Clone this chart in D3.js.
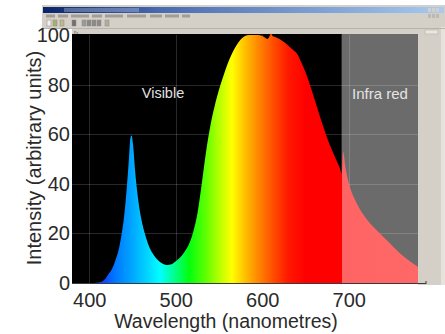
<!DOCTYPE html>
<html>
<head>
<meta charset="utf-8">
<script src="https://cdn.jsdelivr.net/npm/d3@7"></script>
<style>
  html, body { margin: 0; padding: 0; background: #fff; }
  svg { display: block; }
</style>
</head>
<body>
<div id="chart"></div>
<script>
// spectrum readings (nm, arbitrary units)
const wavelengths = [380, 400, 405, 410, 414, 418, 422, 426, 430, 434, 437, 440, 443, 446, 447.5, 449, 450.5, 453, 456, 460, 465,
  470, 475, 480, 485, 490, 495, 500, 505, 510, 515, 520, 525, 530, 535, 540, 545, 550, 555, 560, 565,
  570, 575, 580, 585, 590, 595, 600, 603, 606, 608, 610, 612, 615, 620, 625, 630, 635, 640, 645, 650,
  655, 660, 665, 670, 675, 680, 685, 690, 692, 693.5, 696, 701, 708, 716, 726, 736, 746, 756, 766, 776, 780];
const intensities = [0, 0, 0, 0.2, 0.5, 1.5, 3.5, 5.5, 9, 13.5, 19, 26, 37, 51, 58.5, 59.5, 56, 45, 35, 26, 19,
  14, 11, 9, 7.8, 7.3, 7.6, 8.8, 10.3, 12.5, 15.5, 20.5, 28, 40, 53, 63.5, 71.5, 78, 83.5, 88.5, 92.5,
  95.8, 98.2, 99.6, 100, 100, 100, 99.6, 99, 98.4, 99.2, 100.6, 99.6, 99.2, 98.4, 97.2, 95.8, 94.2, 92.5, 89, 85,
  80, 74.5, 69, 63.5, 58.5, 54, 50, 46, 44, 53, 47, 39, 33, 28, 23.5, 20, 16.5, 13, 10, 7.5, 6.5];
const xTicks = [400, 500, 600, 700];
const yTicks = [0, 20, 40, 60, 80, 100];
const regionLabels = ["Visible", "Infra red"];
const irStart = 692;

const W = 445, H = 334;
const svg = d3.select("#chart").append("svg").attr("width", W).attr("height", H);

const x = d3.scaleLinear().domain([380, 780]).range([72, 418]);
const y = d3.scaleLinear().domain([0, 100]).range([283, 35]);

// ---- window chrome (screenshot look) ----
const frame = "#d4d0c8";
svg.append("rect").attr("x", 42).attr("y", 5).attr("width", 403).attr("height", 23).attr("fill", frame);
svg.append("rect").attr("x", 72).attr("y", 27).attr("width", 373).attr("height", 8).attr("fill", frame);
svg.append("rect").attr("x", 418).attr("y", 27).attr("width", 27).attr("height", 258).attr("fill", frame);
svg.append("rect").attr("x", 441).attr("y", 27).attr("width", 4).attr("height", 258).attr("fill", "#e6e3dd");

const defs = svg.append("defs");
const tg = defs.append("linearGradient").attr("id", "titlebar");
tg.append("stop").attr("offset", "0%").attr("stop-color", "#0a246a");
tg.append("stop").attr("offset", "30%").attr("stop-color", "#4a6cb0");
tg.append("stop").attr("offset", "100%").attr("stop-color", "#a6caf0");
svg.append("rect").attr("x", 43).attr("y", 7).attr("width", 401).attr("height", 6).attr("fill", "url(#titlebar)");
svg.append("rect").attr("x", 64).attr("y", 8).attr("width", 75).attr("height", 4).attr("fill", "#c8d4ec").attr("opacity", 0.35);
[428, 432, 436].forEach(bx => {
  svg.append("rect").attr("x", bx).attr("y", 8).attr("width", 3).attr("height", 4).attr("fill", frame);
  svg.append("rect").attr("x", bx).attr("y", 14).attr("width", 3).attr("height", 4).attr("fill", "#bdb9b1");
});
// menu items
[[46, 9], [58, 10], [71, 18], [92, 10], [105, 18], [127, 19], [150, 12], [165, 14], [182, 8]].forEach(([mx, mw]) => {
  svg.append("rect").attr("x", mx).attr("y", 14.5).attr("width", mw).attr("height", 3).attr("fill", "#a29e96");
});
// toolbar icons
[[47, "#f0efe8"], [53, "#a8b070"], [60, "#c0b890"], [72, "#707070"], [82, "#9a9a9a"], [87, "#8a8a8a"], [92, "#8a8a8a"], [97, "#8a8a8a"], [105, "#b0aca4"]].forEach(([ix, c]) => {
  svg.append("rect").attr("x", ix).attr("y", 20).attr("width", 4).attr("height", 6).attr("fill", c).attr("stroke", "#8f8b83").attr("stroke-width", 0.5);
});
svg.append("line").attr("x1", 42).attr("x2", 445).attr("y1", 28.5).attr("y2", 28.5).attr("stroke", "#b8b4ac");
svg.append("text").attr("x", 74).attr("y", 33.5).attr("font-size", 4).attr("fill", "#444").text("Px");
svg.append("rect").attr("x", 425).attr("y", 30).attr("width", 13).attr("height", 4).attr("fill", "#e8e6e0").attr("stroke", "#aaa").attr("stroke-width", 0.5);

// ---- plot background ----
svg.append("rect").attr("x", x(380)).attr("y", y(100) - 1).attr("width", x(irStart) - x(380)).attr("height", y(0) - y(100) + 1).attr("fill", "#000");
svg.append("rect").attr("x", x(irStart)).attr("y", y(100) - 1).attr("width", x(780) - x(irStart)).attr("height", y(0) - y(100) + 1).attr("fill", "#6b6b6b");

// gridlines
const grid = svg.append("g").attr("stroke", "#fff").attr("stroke-opacity", 0.16).attr("stroke-width", 1);
xTicks.forEach(t => grid.append("line").attr("x1", Math.round(x(t)) + 0.5).attr("x2", Math.round(x(t)) + 0.5).attr("y1", y(100)).attr("y2", y(0)));
yTicks.slice(1, -1).forEach(t => grid.append("line").attr("x1", x(380)).attr("x2", x(780)).attr("y1", Math.round(y(t)) + 0.5).attr("y2", Math.round(y(t)) + 0.5));

// ---- spectrum ----
const stops = [
  [380, "#1030ff"], [415, "#1040ff"], [430, "#0078ff"], [450, "#00a8ff"], [468, "#00d8ff"],
  [482, "#00ffff"], [498, "#00ff90"], [515, "#00ff10"], [535, "#60ff00"], [552, "#c0ff00"],
  [565, "#ffff00"], [580, "#ffc000"], [595, "#ff8800"], [612, "#ff5000"], [630, "#ff1800"],
  [650, "#ff0000"], [irStart, "#ff0000"], [irStart, "#ff6464"], [780, "#ff6868"]
];
const sg = defs.append("linearGradient").attr("id", "spectrum")
  .attr("gradientUnits", "userSpaceOnUse")
  .attr("x1", x(380)).attr("x2", x(780)).attr("y1", 0).attr("y2", 0);
stops.forEach(([nm, c]) => sg.append("stop").attr("offset", (nm - 380) / 400).attr("stop-color", c));

const pts = wavelengths.map((w, i) => [w, intensities[i]]);
const area = d3.area()
  .x(d => x(d[0]))
  .y0(y(0))
  .y1(d => y(d[1]))
  .curve(d3.curveMonotoneX);
svg.append("path").datum(pts).attr("d", area).attr("fill", "url(#spectrum)");

// bottom line
svg.append("line").attr("x1", x(380)).attr("x2", 426).attr("y1", 283.5).attr("y2", 283.5).attr("stroke", "#3a3a3a").attr("stroke-width", 1.2);
svg.append("line").attr("x1", 426).attr("x2", 426).attr("y1", 281).attr("y2", 284).attr("stroke", "#3a3a3a");

// region labels
svg.append("text").attr("x", 163).attr("y", 98).attr("text-anchor", "middle")
  .attr("font-family", "Liberation Sans, Arial, sans-serif").attr("font-size", 14.5).attr("fill", "#e2e2e2").text(regionLabels[0]);
svg.append("text").attr("x", 380).attr("y", 99).attr("text-anchor", "middle")
  .attr("font-family", "Liberation Sans, Arial, sans-serif").attr("font-size", 15).attr("fill", "#e4e4e4").text(regionLabels[1]);

// ---- axes ----
const font = "Liberation Sans, Arial, sans-serif";
const yAxis = svg.append("g").attr("transform", `translate(${x(380)},0)`)
  .call(d3.axisLeft(y).tickValues(yTicks).tickSize(0).tickPadding(2));
yAxis.select(".domain").remove();
yAxis.selectAll("text").attr("font-family", font).attr("font-size", 20).attr("fill", "#2a2a2a");

const xAxis = svg.append("g").attr("transform", `translate(0,${y(0)})`)
  .call(d3.axisBottom(x).tickValues(xTicks).tickSize(0).tickPadding(9.5));
xAxis.select(".domain").remove();
xAxis.selectAll("text").attr("font-family", font).attr("font-size", 20).attr("fill", "#2a2a2a");

svg.append("text").attr("x", 226).attr("y", 328).attr("text-anchor", "middle")
  .attr("font-family", font).attr("font-size", 19.5).attr("fill", "#2a2a2a").text("Wavelength (nanometres)");
svg.append("text").attr("transform", "translate(41,158) rotate(-90)").attr("text-anchor", "middle")
  .attr("font-family", font).attr("font-size", 20).attr("fill", "#2a2a2a").text("Intensity (arbitrary units)");
</script>
</body>
</html>
